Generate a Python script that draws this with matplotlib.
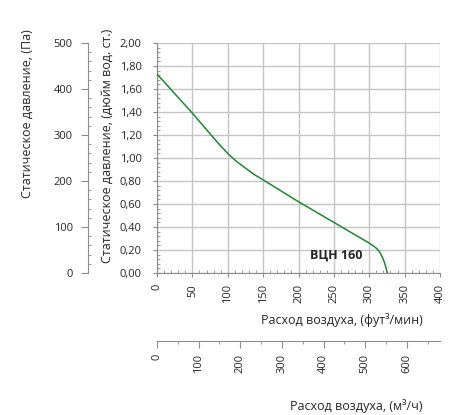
import matplotlib
matplotlib.use("Agg")
import matplotlib.pyplot as plt
from matplotlib.ticker import MultipleLocator, FixedLocator, FuncFormatter

plt.rcParams["font.family"] = ["Open Sans", "DejaVu Sans"]

# fan curve, airflow in cfm vs static pressure in inches of water
flow_cfm = [0, 25, 50, 75, 90, 100, 112, 125, 137, 150, 175, 200, 225, 250,
            275, 300, 306, 311, 315, 318, 321, 323.5, 325.5]
pressure_inwg = [1.73, 1.56, 1.39, 1.21, 1.105, 1.04, 0.972, 0.912, 0.858, 0.81,
                 0.715, 0.62, 0.53, 0.44, 0.35, 0.26, 0.235, 0.21, 0.18, 0.145,
                 0.10, 0.05, 0.0]
curve_name = "ВЦН 160"

pa_ticks = [0, 100, 200, 300, 400, 500]
m3h_ticks = [0, 100, 200, 300, 400, 500, 600]

PA_PER_INWG = 250.0
M3H_PER_CFM = 1.699

txt = "#262626"
axc = "#8c8c8c"

fig = plt.figure(figsize=(4.5, 4.15), dpi=100)
ax = fig.add_axes([157 / 450, 1 - 273 / 415, 283 / 450, 230 / 415])

ax.plot(flow_cfm, pressure_inwg, color="#1b8a2e", lw=1.1, zorder=3)
ax.text(253, 0.157, curve_name, fontsize=9, fontweight="bold", color=txt,
        ha="center", va="center")

ax.set_xlim(0, 400)
ax.set_ylim(0, 2.0)
ax.xaxis.set_major_locator(MultipleLocator(50))
ax.xaxis.set_minor_locator(MultipleLocator(10))
ax.yaxis.set_major_locator(MultipleLocator(0.2))
ax.yaxis.set_minor_locator(MultipleLocator(0.04))
ax.yaxis.set_major_formatter(FuncFormatter(lambda v, p: f"{v:.2f}".replace(".", ",")))
ax.grid(True, which="major", color="#c4c4c4", lw=1.0)
ax.set_axisbelow(True)

for s in ["top", "right"]:
    ax.spines[s].set_visible(False)
for s in ["left", "bottom"]:
    ax.spines[s].set_color(axc)
    ax.spines[s].set_linewidth(0.8)

ax.tick_params(which="major", direction="out", length=3, color=axc,
               labelsize=8, labelcolor=txt)
ax.tick_params(which="minor", direction="in", length=2, color=axc)
ax.tick_params(axis="x", which="major", labelrotation=90, pad=5)
ax.tick_params(axis="y", which="major", pad=8)

# Pa axis on the far left
pa = ax.secondary_yaxis(-69 / 283, functions=(lambda v: v * PA_PER_INWG,
                                               lambda v: v / PA_PER_INWG))
pa.yaxis.set_major_locator(FixedLocator(pa_ticks))
pa.yaxis.set_minor_locator(FixedLocator(range(0, 501, 20)))
pa.spines["left"].set_color(axc)
pa.spines["left"].set_linewidth(0.8)
pa.tick_params(which="major", direction="out", length=5, color=axc,
               labelsize=8, labelcolor=txt, pad=6)
pa.tick_params(which="minor", direction="in", length=2.5, color=axc)

# m3/h axis below
m3 = ax.secondary_xaxis(-68 / 230, functions=(lambda v: v * M3H_PER_CFM,
                                               lambda v: v / M3H_PER_CFM))
m3.xaxis.set_major_locator(FixedLocator(m3h_ticks))
m3.xaxis.set_minor_locator(FixedLocator(range(50, 680, 100)))
m3.spines["bottom"].set_color(axc)
m3.spines["bottom"].set_linewidth(0.8)
m3.tick_params(which="major", direction="out", length=5, color=axc,
               labelsize=8, labelcolor=txt, labelrotation=90, pad=4)
m3.tick_params(which="minor", direction="out", length=2.5, color=axc)

fig.text(27 / 450, 1 - 114 / 415, "Статическое давление, (Па)", rotation=90,
         ha="center", va="center", fontsize=9, color=txt)
fig.text(107 / 450, 1 - 146 / 415, "Статическое давление, (дюйм вод. ст.)",
         rotation=90, ha="center", va="center", fontsize=9, color=txt)
fig.text(423 / 450, 1 - 320 / 415, "Расход воздуха, (фут³/мин)",
         ha="right", va="center", fontsize=9, color=txt)
fig.text(423 / 450, 1 - 406 / 415, "Расход воздуха, (м³/ч)",
         ha="right", va="center", fontsize=9, color=txt)

fig.savefig("out.png", dpi=100)
